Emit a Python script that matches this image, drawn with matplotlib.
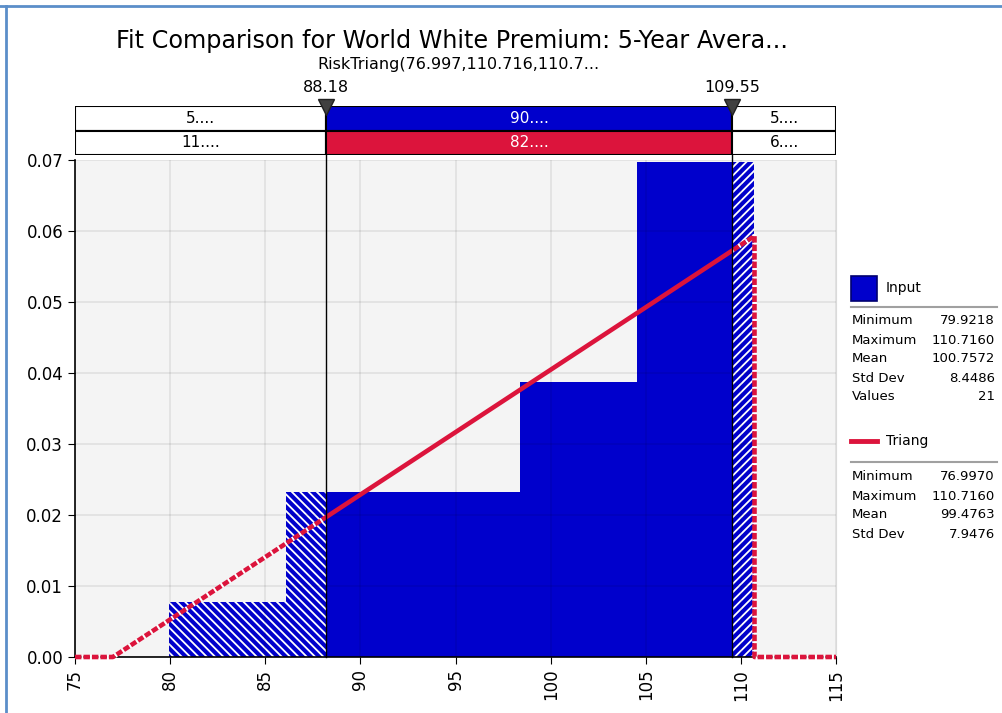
import matplotlib
matplotlib.use("Agg")
from matplotlib import pyplot as plt
from matplotlib.patches import Rectangle
from matplotlib.lines import Line2D
import numpy as np

# histogram of the input data (density per bin)
bin_edges = [79.9218, 86.0806, 92.2395, 98.3983, 104.5572, 110.7160]
bin_density = [0.00774, 0.02322, 0.02322, 0.03870, 0.06966]

# fitted triangular density, as its corner points
tri_x = [75.0, 76.997, 110.716, 110.716, 115.0]
tri_y = [0.0, 0.0, 0.0593, 0.0, 0.0]

# delimiters and the percentages shown in the bars above the plot
delims = [88.18, 109.55]
input_pcts = ["5....", "90....", "5...."]
triang_pcts = ["11....", "82....", "6...."]

input_stats = [("Minimum", "79.9218"), ("Maximum", "110.7160"), ("Mean", "100.7572"),
               ("Std Dev", "8.4486"), ("Values", "21")]
triang_stats = [("Minimum", "76.9970"), ("Maximum", "110.7160"), ("Mean", "99.4763"),
                ("Std Dev", "7.9476")]

BLUE = "#0000cc"
RED = "#dc143c"
W, H = 1003, 713

plt.rcParams["hatch.linewidth"] = 1.3

fig = plt.figure(figsize=(W / 100, H / 100), dpi=100)

def fx(px):
    return px / W

def fy(py):
    return 1 - py / H

# main plot area
ax = fig.add_axes([fx(75), fy(657), fx(836) - fx(75), fy(160) - fy(657)])
ax.set_facecolor("#f4f4f4")
ax.set_xlim(75, 115)
ax.set_ylim(0, 0.07)
ax.set_xticks(np.arange(75, 116, 5))
ax.set_yticks(np.arange(0, 0.071, 0.01))
ax.set_yticklabels(["%.2f" % v for v in np.arange(0, 0.071, 0.01)])
ax.tick_params(axis="x", labelrotation=90, labelsize=12, length=5)
ax.tick_params(axis="y", labelsize=12, length=5)
ax.grid(True, color="black", alpha=0.08, linewidth=1.2, zorder=2.5)
ax.set_axisbelow(False)
ax.spines["top"].set_visible(False)
ax.spines["right"].set_color("#dadada")
ax.spines["left"].set_linewidth(1.2)
ax.spines["bottom"].set_linewidth(1.2)

lo, hi = delims
for i in range(len(bin_density)):
    a, b = bin_edges[i], bin_edges[i + 1]
    h = bin_density[i]
    # split each bin into parts left of, between and right of the delimiters
    pieces = [(a, min(b, lo), "\\" * 4), (max(a, lo), min(b, hi), None), (max(a, hi), b, "/" * 4)]
    for x0, x1, hatch in pieces:
        if x1 <= x0:
            continue
        if hatch:
            ax.bar(x0, h, width=x1 - x0, align="edge", color=BLUE,
                   edgecolor="white", linewidth=0, hatch=hatch, zorder=2)
        else:
            ax.bar(x0, h, width=x1 - x0, align="edge", color=BLUE,
                   linewidth=0, zorder=2)

# triangular fit: solid inside the delimiters, dashed outside
regions = [(75, lo, True), (lo, hi, False), (hi, 115, True)]
for x0, x1, dashed in regions:
    if dashed:
        ln, = ax.plot(tri_x, tri_y, color=RED, lw=3.3, ls=(0, (1.4, 0.45)),
                      gapcolor="white", zorder=3)
    else:
        ln, = ax.plot(tri_x, tri_y, color=RED, lw=3.3, zorder=3, solid_capstyle="butt")
    clip = Rectangle((x0, -1), x1 - x0, 2, transform=ax.transData)
    ln.set_clip_path(clip)

# delimiter lines and labels
top_frac = (657 - 101) / (657 - 160)
for d in delims:
    ax.axvline(d, ymin=0, ymax=top_frac, color="black", lw=1, clip_on=False, zorder=4)
    ax.text(d, (657 - 88) / (657 - 160), "%.2f" % d, ha="center", va="center",
            fontsize=11.5, transform=ax.get_xaxis_transform())

# percentage bars above the plot
bx = fig.add_axes([fx(75), fy(155), fx(836) - fx(75), fy(106) - fy(155)])
bx.set_xlim(75, 115)
bx.set_ylim(0, 2)
bx.axis("off")
edges = [75, lo, hi, 115]
for j in range(3):
    x0, x1 = edges[j], edges[j + 1]
    mid = j == 1
    bx.add_patch(Rectangle((x0, 1), x1 - x0, 1, facecolor=BLUE if mid else "white",
                           edgecolor="black", lw=1.5))
    bx.add_patch(Rectangle((x0, 0), x1 - x0, 1, facecolor=RED if mid else "white",
                           edgecolor="black", lw=1.5))
    c = "white" if mid else "black"
    bx.text((x0 + x1) / 2, 1.5, input_pcts[j], ha="center", va="center", fontsize=11, color=c)
    bx.text((x0 + x1) / 2, 0.5, triang_pcts[j], ha="center", va="center", fontsize=11, color=c)

# delimiter markers sit on top of the percentage bars
for d in delims:
    bx.plot([d], [1.97], marker="v", ms=12, color="#404040", markeredgecolor="#202020",
            clip_on=False, zorder=6)

# titles
fig.text(fx(452), fy(41), "Fit Comparison for World White Premium: 5-Year Avera...",
         ha="center", va="center", fontsize=17.2)
fig.text(fx(458), fy(65), "RiskTriang(76.997,110.716,110.7...", ha="center", va="center",
         fontsize=11.5)

# legend panel with statistics
fig.patches.append(Rectangle((fx(851), fy(301)), fx(26), fy(276) - fy(301), facecolor=BLUE,
                             edgecolor="#000070", lw=1.2, transform=fig.transFigure))
fig.text(fx(886), fy(288), "Input", va="center", fontsize=10)
fig.lines.append(Line2D([fx(851), fx(997)], [fy(307), fy(307)], color="#a0a0a0", lw=1.5,
                        transform=fig.transFigure))
for k, (name, val) in enumerate(input_stats):
    y = fy(321 + 19 * k)
    fig.text(fx(852), y, name, va="center", fontsize=9.5)
    fig.text(fx(995), y, val, va="center", ha="right", fontsize=9.5)

fig.lines.append(Line2D([fx(851), fx(877)], [fy(441), fy(441)], color=RED, lw=3.5,
                        transform=fig.transFigure))
fig.text(fx(886), fy(441), "Triang", va="center", fontsize=10)
fig.lines.append(Line2D([fx(851), fx(997)], [fy(462), fy(462)], color="#a0a0a0", lw=1.5,
                        transform=fig.transFigure))
for k, (name, val) in enumerate(triang_stats):
    y = fy(477 + 19 * k)
    fig.text(fx(852), y, name, va="center", fontsize=9.5)
    fig.text(fx(995), y, val, va="center", ha="right", fontsize=9.5)

# window frame
fig.lines.append(Line2D([0, 1], [fy(6), fy(6)], color="#5b8ec9", lw=2, transform=fig.transFigure))
fig.lines.append(Line2D([fx(6), fx(6)], [0, fy(6)], color="#5b8ec9", lw=2, transform=fig.transFigure))

fig.savefig("out.png", dpi=100)
